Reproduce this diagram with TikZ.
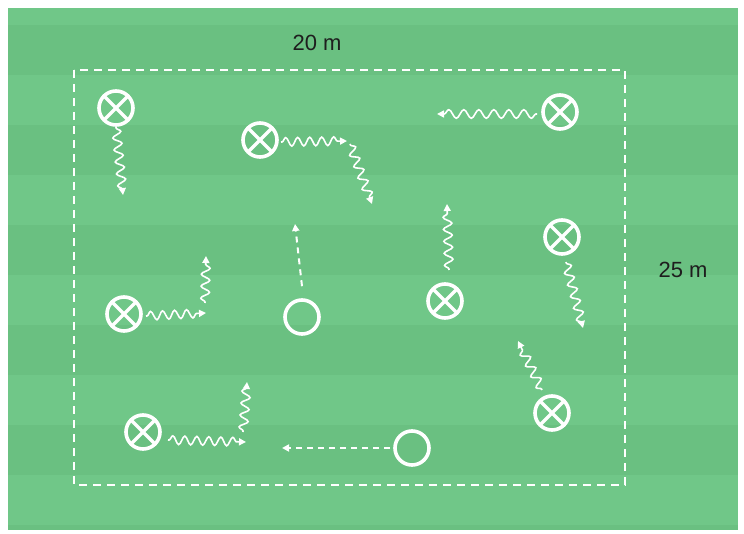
\documentclass[tikz,border=0pt]{standalone}
\usepackage{fontspec}
\setmainfont{Liberation Sans}
\usetikzlibrary{decorations.pathmorphing,arrows.meta}
\definecolor{fieldlight}{RGB}{112,199,136}
\definecolor{fielddark}{RGB}{106,192,129}
\definecolor{labeltext}{RGB}{30,30,30}
\begin{document}
\begin{tikzpicture}[x=1pt,y=-1pt,
  player/.style={circle, draw=white, line width=3.6pt, minimum size=34pt, inner sep=0pt,
    path picture={\draw[white,line width=3.4pt]
      (path picture bounding box.north west)--(path picture bounding box.south east)
      (path picture bounding box.north east)--(path picture bounding box.south west);}},
  cone/.style={circle, draw=white, line width=3.6pt, minimum size=34pt, inner sep=0pt},
  wave/.style={white, line width=1.6pt, decorate,
    decoration={snake, amplitude=4.3pt, segment length=12pt, post length=5pt, pre length=1pt},
    -{Triangle[length=7pt,width=7pt]}},
  longwave/.style={wave, decoration={segment length=15pt}},
  dasharrow/.style={white, line width=2pt, dash pattern=on 6pt off 5pt,
    -{Triangle[length=7pt,width=7pt]}},
  border/.style={white, line width=2pt, dash pattern=on 8pt off 6pt},
  lab/.style={text=labeltext, font=\fontsize{22}{24}\selectfont, inner sep=0pt}]
\useasboundingbox (0,0) rectangle (744,534);
\fill[white] (0,0) rectangle (744,534);
\fill[fieldlight] (8,8) rectangle (738,529);
\begin{scope}
\clip (8,8) rectangle (738,529);
\foreach \y in {25,125,225,325,425,525} \fill[fielddark] (8,\y) rectangle (738,\y+50);
\end{scope}
\draw[border] (74,70) rectangle (625,485);
\node[lab] (l20) at (317,43) {20 m};
\node[lab] (l25) at (683,270) {25 m};
% players
\node[player] (p1) at (116,108) {};
\node[player] (p2) at (260,140) {};
\node[player] (p3) at (560,112) {};
\node[player] (p4) at (562,237) {};
\node[player] (p5) at (124,314) {};
\node[player] (p6) at (445,301) {};
\node[player] (p7) at (552,413) {};
\node[player] (p8) at (143,432) {};
\node[cone] (o1) at (302,317) {};
\node[cone] (o2) at (412,448) {};
% coordinates
\coordinate (p1s) at (116,127);
\coordinate (p1e) at (123,195);
\coordinate (p2s) at (281,142);
\coordinate (p2m) at (347,141);
\coordinate (p2t) at (350,144);
\coordinate (p2e) at (372,204);
\coordinate (p3s) at (537,114);
\coordinate (p3e) at (437,114);
\coordinate (p4s) at (566,262);
\coordinate (p4e) at (583,328);
\coordinate (p5s) at (146,316);
\coordinate (p5m) at (206,313);
\coordinate (p5t) at (205,303);
\coordinate (p5e) at (206,256);
\coordinate (p6s) at (449,270);
\coordinate (p6e) at (447,204);
\coordinate (p7s) at (542,390);
\coordinate (p7e) at (518,341);
\coordinate (p8s) at (168,440);
\coordinate (p8m) at (246,442);
\coordinate (p8t) at (243,432);
\coordinate (p8e) at (247,382);
\coordinate (o1e) at (295,224);
\coordinate (o2e) at (282,448);
% runs
\draw[wave] (p1s) -- (p1e);
\draw[wave] (p2s) -- (p2m);
\draw[wave] (p2t) -- (p2e);
\draw[longwave] (p3s) -- (p3e);
\draw[wave] (p4s) -- (p4e);
\draw[wave] (p5s) -- (p5m);
\draw[wave] (p5t) -- (p5e);
\draw[wave] (p6s) -- (p6e);
\draw[wave] (p7s) -- (p7e);
\draw[wave] (p8s) -- (p8m);
\draw[wave] (p8t) -- (p8e);
\draw[dasharrow] (o1.north) ++(0,-12) coordinate (o1s) (o1s) -- (o1e);
\draw[dasharrow] (o2.west) ++(-3,0) coordinate (o2s) (o2s) -- (o2e);
\end{tikzpicture}
\end{document}
